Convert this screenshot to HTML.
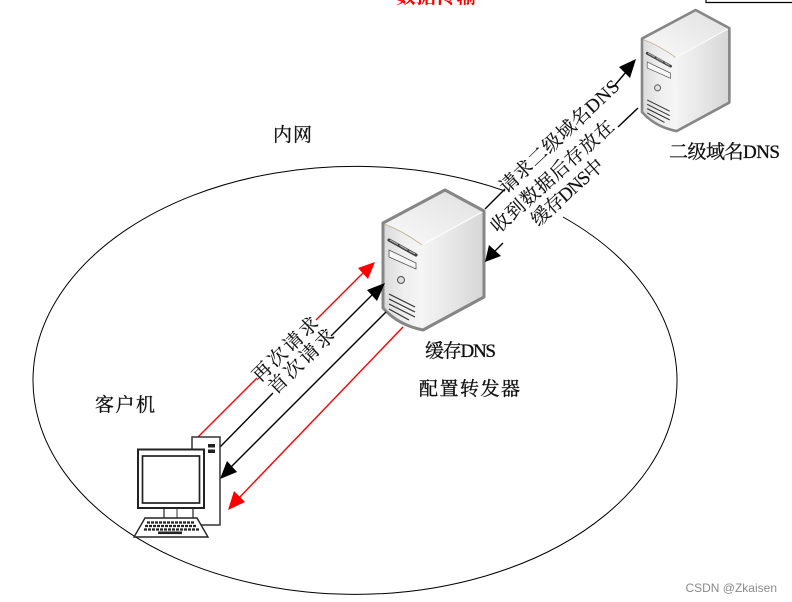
<!DOCTYPE html>
<html><head><meta charset="utf-8"><style>
html,body{margin:0;padding:0;background:#fff;width:792px;height:602px;overflow:hidden}
svg{display:block}
.t{font-family:"Liberation Serif","Noto Serif CJK SC",serif;font-size:19px;fill:#111;stroke:#111;stroke-width:.35px}
.r{font-family:"Liberation Serif","Noto Serif CJK SC",serif;font-size:19px;fill:#111;text-anchor:middle;dominant-baseline:central;stroke:#111;stroke-width:.15px}
</style></head><body>
<svg width="792" height="602" viewBox="0 0 792 602" xmlns="http://www.w3.org/2000/svg">
<defs>
<linearGradient id="fr" x1="0" y1="0" x2="1" y2="0"><stop offset="0" stop-color="#dadada"/><stop offset=".5" stop-color="#eeeeee"/><stop offset="1" stop-color="#f6f6f6"/></linearGradient>
<linearGradient id="rt" x1="0" y1="0" x2="1" y2="0"><stop offset="0" stop-color="#f4f4f4"/><stop offset=".45" stop-color="#e8e8e8"/><stop offset="1" stop-color="#d6d6d6"/></linearGradient>
<linearGradient id="tp" x1="0" y1="1" x2="1" y2="0"><stop offset="0" stop-color="#fafafa"/><stop offset="1" stop-color="#e0e0e0"/></linearGradient>
<g id="srv">
<path d="M0 33 L62 0 L101 21 L39 55 Q18 40 0 33Z" fill="url(#tp)"/>
<path d="M0 33 Q18 40 39 55 L40 140 Q15 135 0 118Z" fill="url(#fr)"/>
<path d="M39 55 L101 21 L101 107 L40 140Z" fill="url(#rt)"/>
<path d="M1 34 Q20 41 39 55" fill="none" stroke="#c9b798" stroke-width="1"/>
<path d="M39 55 L101 21" stroke="#fff" stroke-width="1" fill="none"/>
<path d="M0 33 L62 0 L101 21 L101 107 L40 140 Q15 135 0 118Z" fill="none" stroke="#868686" stroke-width="3" stroke-linejoin="round"/>
<path d="M6 50 L33 65" stroke="#444" stroke-width="3.2" stroke-linecap="round"/>
<path d="M7 50 L32 64" stroke="#bbb" stroke-width="1" stroke-dasharray="9 2"/>
<path d="M6 60 L33 73 L33 79 L6 67Z" fill="#f6f6f6" stroke="#555" stroke-width=".8"/>
<circle cx="18" cy="90" r="3.5" fill="#e0e0e0" stroke="#666" stroke-width="1.2"/>
<path d="M6 104 L32 117 M6 109 L32 122 M6 114 L32 127 M6 119 L26 130" stroke="#333" stroke-width="1.2" fill="none"/>
</g>
</defs>

<path d="M563 217 A322 214 0 1 1 505 191" fill="none" stroke="#000" stroke-width="1"/>

<use href="#srv" transform="translate(383,190)"/>
<use href="#srv" transform="translate(642,10) scale(.865)"/>

<path d="M706 0 V2.5 H792" fill="none" stroke="#000" stroke-width="1.2"/>
<text x="436" y="3" text-anchor="middle" font-family="Liberation Serif,Noto Serif CJK SC,serif" font-size="20" font-weight="700" fill="#f00">数据传输</text>

<!-- red up -->
<path d="M198 437 L257 378 M316 320 L364 272" stroke="#f00" stroke-width="1.4" fill="none"/>
<path d="M375 262 L358 268 L368 279Z" fill="#f00"/>
<!-- black up -->
<path d="M220 447 L273 393 M331 336 L374 293" stroke="#000" stroke-width="1.4" fill="none"/>
<path d="M385 283 L367 290 L377 301Z" fill="#000"/>
<!-- black down -->
<path d="M386 312 L230 468" stroke="#000" stroke-width="1.4" fill="none"/>
<path d="M220 479 L237 472 L227 461Z" fill="#000"/>
<!-- red down -->
<path d="M403 327 L238 499" stroke="#f00" stroke-width="1.4" fill="none"/>
<path d="M228 510 L245 502 L234 491Z" fill="#f00"/>
<!-- upper black -->
<path d="M485 209 L505 189 M615 85 L626 72" stroke="#000" stroke-width="1.4" fill="none"/>
<path d="M636 59 L619 67 L630 78Z" fill="#000"/>
<path d="M638 108 L618 127 M503 243 L494 252" stroke="#000" stroke-width="1.4" fill="none"/>
<path d="M485 262 L489 245 L501 256Z" fill="#000"/>

<!-- computer -->
<rect x="192" y="437" width="28" height="88" fill="#fff" stroke="#333" stroke-width="1.5"/>
<rect x="208" y="444" width="7" height="3.5" fill="#222"/><rect x="208" y="449.5" width="7" height="3.5" fill="#222"/>
<rect x="164" y="507" width="29" height="12" fill="#fff" stroke="#333" stroke-width="1.3"/>
<path d="M177 507 V519" stroke="#333"/>
<rect x="138" y="449.5" width="66" height="58.5" fill="#fff" stroke="#222" stroke-width="2"/>
<rect x="142.5" y="456" width="57" height="47" fill="#fff" stroke="#222" stroke-width="1.7"/>
<path d="M145 518 H197 L208 537 H134Z" fill="#fff" stroke="#222" stroke-width="1.4"/>
<path d="M147 522.5 H195 M145 526 H197 M144 529.5 H199" stroke="#222" stroke-width="2.2" stroke-dasharray="3 1"/>
<rect x="158" y="531.5" width="24" height="2.6" fill="#222"/>

<!-- labels -->
<text class="t" x="273" y="141" textLength="39">内网</text>
<text class="t" x="95" y="411" textLength="60">客户机</text>
<text class="t" x="425" y="357" textLength="71">缓存DNS</text>
<text class="t" x="419" y="395" textLength="101">配置转发器</text>
<text class="t" x="669" y="158" textLength="111">二级域名DNS</text>

<text class="r" transform="translate(286,350) rotate(-44)" textLength="84">再次请求</text>
<text class="r" transform="translate(302,362) rotate(-44)" textLength="84">首次请求</text>
<text class="r" transform="translate(560,137) rotate(-43)" textLength="156">请求二级域名DNS</text>
<text class="r" transform="translate(553,177) rotate(-42)" textLength="158">收到数据后存放在</text>
<text class="r" transform="translate(568,193) rotate(-42)" textLength="90">缓存DNS中</text>

<text x="777" y="592" text-anchor="end" font-family="Liberation Sans,sans-serif" font-size="12" fill="#8a8a8a">CSDN @Zkaisen</text>
</svg>
</body></html>
